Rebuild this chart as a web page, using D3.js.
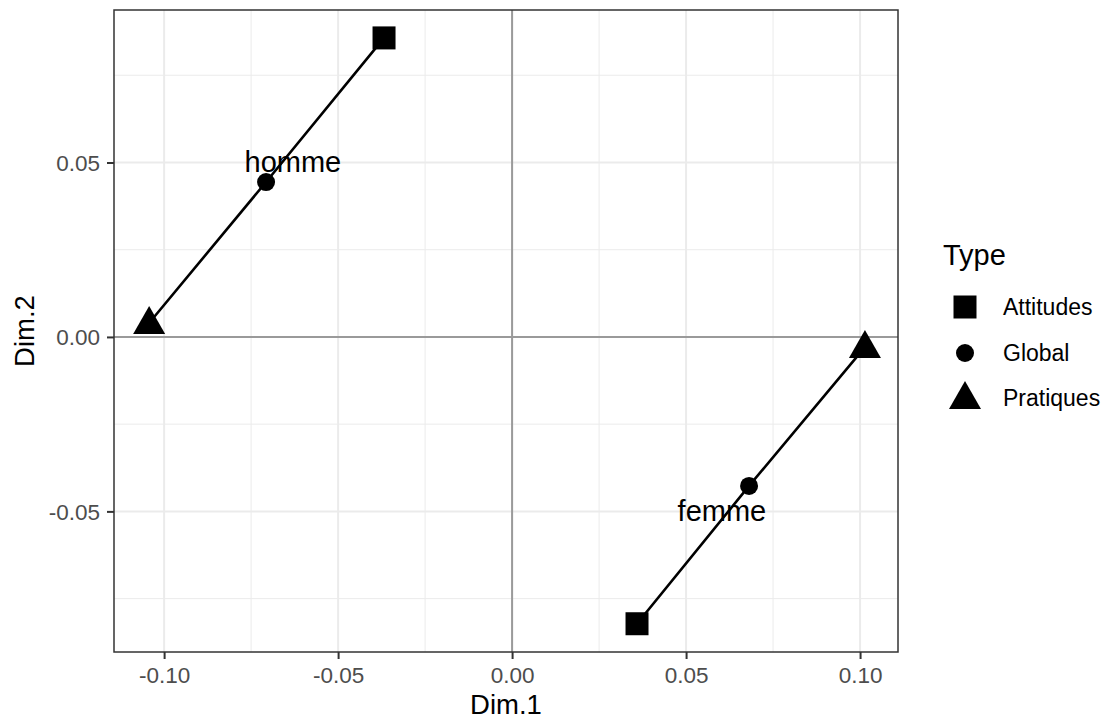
<!DOCTYPE html>
<html><head><meta charset="utf-8">
<script src="https://cdn.jsdelivr.net/npm/d3@7"></script>
<style>body{margin:0;background:#fff;font-family:"Liberation Sans",Arial,sans-serif;}</style>
</head><body><svg id="chart" width="1108" height="720" font-family="Liberation Sans, Arial, sans-serif"></svg>
<script>
const groups = ["homme","homme","homme","femme","femme","femme"];
const types = ["Attitudes","Global","Pratiques","Attitudes","Global","Pratiques"];
const dim1 = [-0.0368,-0.0707,-0.1043, 0.0359, 0.0681, 0.1014];
const dim2 = [ 0.0857, 0.0444, 0.0040,-0.0822,-0.0427,-0.0029];
const labelNames = ["homme","femme"];
const labelX = [-0.0630, 0.0603];
const labelY = [ 0.0500,-0.0500];
const xTicks = [-0.10,-0.05,0.00,0.05,0.10];
const yTicks = [-0.05,0.00,0.05];
const xMinor = [-0.075,-0.025,0.025,0.075];
const yMinor = [-0.075,-0.025,0.025,0.075];
const legendTypes = ["Attitudes","Global","Pratiques"];

const svg = d3.select("#chart");
const L=114,R=898,T=10,B=652;
const x = d3.scaleLinear().domain([-0.1144,0.1109]).range([L,R]);
const y = d3.scaleLinear().domain([-0.0903,0.0937]).range([B,T]);

const g = svg.append("g");
g.append("rect").attr("x",L).attr("y",T).attr("width",R-L).attr("height",B-T).attr("fill","#fff");
g.selectAll(".mx").data(xMinor).enter().append("line")
 .attr("x1",d=>x(d)).attr("x2",d=>x(d)).attr("y1",T).attr("y2",B).attr("stroke","#ebebeb").attr("stroke-width",1);
g.selectAll(".my").data(yMinor).enter().append("line")
 .attr("y1",d=>y(d)).attr("y2",d=>y(d)).attr("x1",L).attr("x2",R).attr("stroke","#ebebeb").attr("stroke-width",1);
g.selectAll(".Mx").data(xTicks).enter().append("line")
 .attr("x1",d=>x(d)).attr("x2",d=>x(d)).attr("y1",T).attr("y2",B).attr("stroke","#ebebeb").attr("stroke-width",2);
g.selectAll(".My").data(yTicks).enter().append("line")
 .attr("y1",d=>y(d)).attr("y2",d=>y(d)).attr("x1",L).attr("x2",R).attr("stroke","#ebebeb").attr("stroke-width",2);
g.append("line").attr("x1",x(0)).attr("x2",x(0)).attr("y1",T).attr("y2",B).attr("stroke","#9a9a9a").attr("stroke-width",2);
g.append("line").attr("y1",y(0)).attr("y2",y(0)).attr("x1",L).attr("x2",R).attr("stroke","#9a9a9a").attr("stroke-width",2);

const pts = dim1.map((d,i)=>({x:d,y:dim2[i],group:groups[i],type:types[i]}));
const byGroup = d3.group(pts,d=>d.group);
const line = d3.line().x(d=>x(d.x)).y(d=>y(d.y));
for (const [k,arr] of byGroup) {
  g.append("path").attr("d",line(arr)).attr("fill","none").attr("stroke","#000").attr("stroke-width",2.6);
}
function shape(t){
  if(t==="Attitudes") return d3.symbol().type(d3.symbolSquare).size(23*23)();
  if(t==="Global") return d3.symbol().type(d3.symbolCircle).size(Math.PI*9*9)();
  return "M-16,11L0,-17L16,11Z";
}
g.selectAll(".pt").data(pts).enter().append("path")
 .attr("transform",d=>`translate(${x(d.x)},${y(d.y)})`)
 .attr("d",d=>shape(d.type)).attr("fill","#000");

g.selectAll(".lab").data(labelNames).enter().append("text")
 .attr("x",(d,i)=>x(labelX[i])).attr("y",(d,i)=>y(labelY[i]))
 .attr("text-anchor","middle").attr("dominant-baseline","central")
 .attr("font-size",29).attr("fill","#000").text(d=>d);

g.append("rect").attr("x",L).attr("y",T).attr("width",R-L).attr("height",B-T).attr("fill","none").attr("stroke","#333").attr("stroke-width",1.5);

const fmt = d=>d3.format(".2f")(d).replace("\u2212","-");
const xa = svg.append("g").attr("transform",`translate(0,${B})`)
 .call(d3.axisBottom(x).tickValues(xTicks).tickFormat(fmt).tickSize(7).tickSizeOuter(0));
const ya = svg.append("g").attr("transform",`translate(${L},0)`)
 .call(d3.axisLeft(y).tickValues(yTicks).tickFormat(fmt).tickSize(7).tickSizeOuter(0));
[xa,ya].forEach(a=>{
  a.attr("font-size",null).attr("font-family",null);
  a.select(".domain").remove();
  a.selectAll(".tick line").attr("stroke","#333").attr("stroke-width",2);
  a.selectAll(".tick text").attr("fill","#4d4d4d").style("font-size","22.5px").style("font-family","Liberation Sans, Arial, sans-serif");
});
xa.selectAll(".tick text").attr("y",31).attr("dy",null);
ya.selectAll(".tick text").attr("x",-14).attr("dy","0.35em");

svg.append("text").attr("x",(L+R)/2).attr("y",714).attr("text-anchor","middle").attr("font-size",27.5).text("Dim.1");
svg.append("text").attr("transform",`translate(34,${(T+B)/2}) rotate(-90)`).attr("text-anchor","middle").attr("font-size",27.5).text("Dim.2");

const lg = svg.append("g");
lg.append("text").attr("x",943).attr("y",265).attr("font-size",29).text("Type");
const ly = [307,353,398];
legendTypes.forEach((t,i)=>{
  lg.append("path").attr("transform",`translate(965,${ly[i]})`).attr("d",shape(t)).attr("fill","#000");
  lg.append("text").attr("x",1003).attr("y",ly[i]).attr("dominant-baseline","central").attr("font-size",23).attr("fill","#000").text(t);
});
</script></body></html>
